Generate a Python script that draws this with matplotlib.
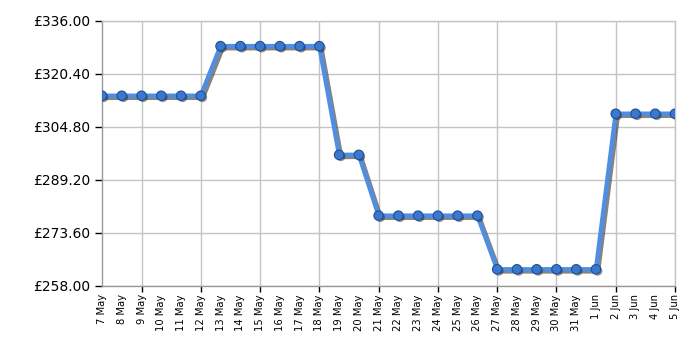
import matplotlib
matplotlib.use("Agg")
import matplotlib.pyplot as plt
import matplotlib.patheffects as pe
import numpy as np

DATES = ['7 May', '8 May', '9 May', '10 May', '11 May', '12 May', '13 May', '14 May',
         '15 May', '16 May', '17 May', '18 May', '19 May', '20 May', '21 May', '22 May',
         '23 May', '24 May', '25 May', '26 May', '27 May', '28 May', '29 May', '30 May',
         '31 May', '1 Jun', '2 Jun', '3 Jun', '4 Jun', '5 Jun']
PRICES = [314.0, 314.0, 314.0, 314.0, 314.0, 314.0,
          328.6, 328.6, 328.6, 328.6, 328.6, 328.6,
          296.6, 296.6,
          278.7, 278.7, 278.7, 278.7, 278.7, 278.7,
          262.9, 262.9, 262.9, 262.9, 262.9, 262.9,
          308.7, 308.7, 308.7, 308.7]
Y_TICKS = [258.0, 273.6, 289.2, 304.8, 320.4, 336.0]

fig = plt.figure(figsize=(7, 3.5), dpi=100)
ax = fig.add_axes([0.1457, 0.183, 0.8186, 0.757])

x = np.arange(len(DATES))
# line with a soft drop shadow
ax.plot(x, PRICES, color='#4f8ee0', lw=3.2, zorder=3, solid_joinstyle='round',
        path_effects=[pe.SimpleLineShadow(offset=(1.5, -1.5), shadow_color='#333333', alpha=0.6),
                      pe.Normal()])
# markers
ax.plot(x, PRICES, ls='none', marker='o', ms=6.8,
        mfc='#3a78d0', mec='#1f4f94', mew=0.8, zorder=4,
        path_effects=[pe.SimplePatchShadow(offset=(1.2, -1.2), shadow_rgbFace='#333333', alpha=0.55),
                      pe.Normal()])

ax.set_xlim(0, len(DATES) - 1)
ax.set_ylim(Y_TICKS[0], Y_TICKS[-1])

ax.set_yticks(Y_TICKS)
ax.set_yticklabels(['£%.2f' % v for v in Y_TICKS], fontsize=10)

ax.xaxis.remove_overlapping_locs = False
ax.set_xticks(x)
ax.set_xticklabels(DATES, rotation=90, fontsize=7.2)
ax.set_xticks(x[2::3], minor=True)
ax.tick_params(axis='x', which='major', length=0, pad=6)
ax.tick_params(axis='x', which='minor', length=4, width=1, color='black')
ax.tick_params(axis='y', length=5, width=1, color='black')

ax.grid(True, which='minor', axis='x', color='#c4c4c4', lw=1)
ax.grid(True, which='major', axis='y', color='#c4c4c4', lw=1)
ax.set_axisbelow(True)

for s in ax.spines.values():
    s.set_color('#999999')
    s.set_linewidth(1)
ax.spines['top'].set_color('#c4c4c4')
ax.spines['right'].set_color('#c4c4c4')

fig.savefig('out.png', dpi=100)
